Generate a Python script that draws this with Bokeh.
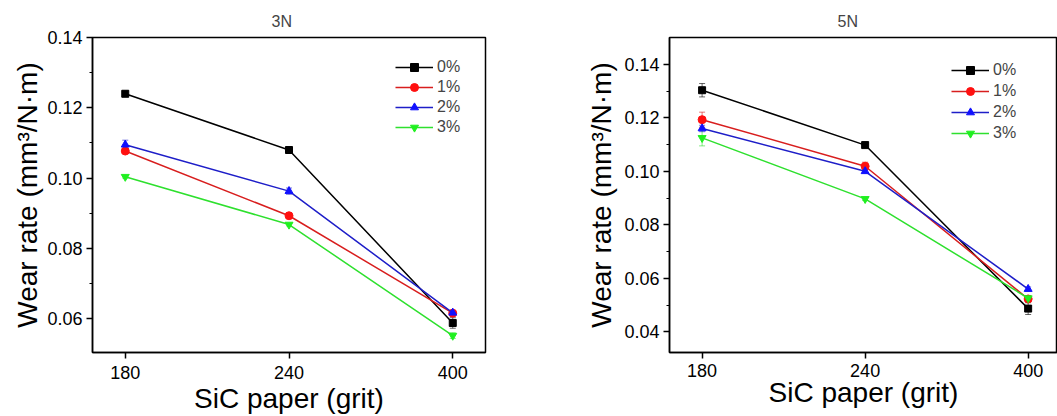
from bokeh.plotting import figure
from bokeh.models import (ColumnDataSource, Whisker, TeeHead, Legend, LegendItem,
                          FixedTicker, SingleIntervalTicker, NumeralTickFormatter, Range1d)
from bokeh.layouts import row
from bokeh.embed import file_html
from bokeh.resources import INLINE

# ---------------- data ----------------
grit = ["180", "240", "400"]
series = ["0%", "1%", "2%", "3%"]

# 3N
wear_3N_0 = [0.1240, 0.1080, 0.0588]
wear_3N_1 = [0.1077, 0.0893, 0.0616]
wear_3N_2 = [0.1095, 0.0963, 0.0617]
wear_3N_3 = [0.1004, 0.0868, 0.0552]
err_3N_0 = [0.0008, 0.0004, 0.0015]
err_3N_1 = [0.0005, 0.0004, 0.0004]
err_3N_2 = [0.0013, 0.0009, 0.0006]
err_3N_3 = [0.0004, 0.0004, 0.0008]

# 5N
wear_5N_0 = [0.1303, 0.1098, 0.0487]
wear_5N_1 = [0.1193, 0.1019, 0.0523]
wear_5N_2 = [0.1160, 0.1000, 0.0560]
wear_5N_3 = [0.1125, 0.0897, 0.0526]
err_5N_0 = [0.0025, 0.0005, 0.0022]
err_5N_1 = [0.0028, 0.0015, 0.0008]
err_5N_2 = [0.0012, 0.0008, 0.0008]
err_5N_3 = [0.0030, 0.0006, 0.0010]

# ---------------- styles ----------------
line_colors = ["#000000", "#d81e1e", "#1e1ec8", "#2ee02e"]
marker_colors = ["#000000", "#ff1010", "#1010ff", "#20f020"]
markers = ["square", "circle", "triangle", "inverted_triangle"]
marker_sizes = [7, 8, 8, 8]
FONT = "Liberation Sans"
HEIGHT = 416


def make_panel(title, ys, errs, y_start, y_end, x_end, width, mb_left, mb_right,
               mb_top, mb_bottom, legend_loc, legend_spacing, title_offset,
               ylabel_standoff, xlabel_standoff, xtick_standoff):
    p = figure(width=width, height=HEIGHT, output_backend="svg", toolbar_location=None,
               x_range=Range1d(-0.2, x_end), y_range=Range1d(y_start, y_end),
               min_border_left=mb_left, min_border_right=mb_right,
               min_border_top=mb_top, min_border_bottom=mb_bottom,
               background_fill_color="white", border_fill_color="white")
    p.title.text = title
    p.title.align = "left"
    p.title.offset = title_offset
    p.title.text_font = FONT
    p.title.text_font_size = "16px"
    p.title.text_font_style = "normal"
    p.title.standoff = 15
    p.grid.visible = False
    p.outline_line_color = "black"
    p.outline_line_width = 1.5
    p.outline_line_alpha = 1

    xs = list(range(len(grit)))
    items = []
    for i, (name, y, e) in enumerate(zip(series, ys, errs)):
        src = ColumnDataSource(dict(x=xs, y=y,
                                    upper=[a + b for a, b in zip(y, e)],
                                    lower=[a - b for a, b in zip(y, e)]))
        w = Whisker(source=src, base="x", upper="upper", lower="lower",
                    line_color=line_colors[i], line_width=1, line_alpha=0.6,
                    upper_head=TeeHead(size=6, line_color=line_colors[i], line_alpha=0.6, line_width=1),
                    lower_head=TeeHead(size=6, line_color=line_colors[i], line_alpha=0.6, line_width=1))
        p.add_layout(w)
        l = p.line("x", "y", source=src, line_color=line_colors[i], line_width=1.5)
        s = p.scatter("x", "y", source=src, marker=markers[i], size=marker_sizes[i],
                      fill_color=marker_colors[i], line_color=marker_colors[i])
        items.append(LegendItem(label=name, renderers=[l, s]))

    legend = Legend(items=items, location=legend_loc, margin=0, padding=0,
                    spacing=legend_spacing, glyph_width=38, glyph_height=20, label_height=20,
                    label_standoff=4, label_text_font=FONT, label_text_font_size="16px",
                    border_line_alpha=0, background_fill_alpha=0)
    p.add_layout(legend)

    # axes
    p.xaxis.ticker = FixedTicker(ticks=xs)
    p.xaxis.major_label_overrides = {i: g for i, g in enumerate(grit)}
    p.yaxis.ticker = SingleIntervalTicker(interval=0.02, num_minor_ticks=2)
    p.yaxis.formatter = NumeralTickFormatter(format="0.00")
    for ax in (p.xaxis[0], p.yaxis[0]):
        ax.axis_line_width = 1.5
        ax.axis_line_color = "black"
        ax.major_tick_line_width = 1.5
        ax.major_tick_line_color = "black"
        ax.minor_tick_line_color = "black"
        ax.minor_tick_line_width = 1.2
        ax.major_tick_in = 0
        ax.major_tick_out = 6
        ax.minor_tick_in = 0
        ax.minor_tick_out = 3
        ax.major_label_text_font = FONT
        ax.major_label_text_font_size = "18px"
        ax.major_label_text_color = "black"
        ax.axis_label_text_font = FONT
        ax.axis_label_text_font_style = "normal"
        ax.axis_label_text_color = "black"
    p.xaxis.minor_tick_out = 0
    p.xaxis.major_label_standoff = xtick_standoff
    p.yaxis.major_label_standoff = 4
    p.xaxis.axis_label = "SiC paper (grit)"
    p.yaxis.axis_label = "Wear rate (mm³/N·m)"
    p.xaxis.axis_label_text_font_size = "28px"
    p.yaxis.axis_label_text_font_size = "28px"
    p.xaxis.axis_label_standoff = xlabel_standoff
    p.yaxis.axis_label_standoff = ylabel_standoff
    return p


left = make_panel("3N",
                  [wear_3N_0, wear_3N_1, wear_3N_2, wear_3N_3],
                  [err_3N_0, err_3N_1, err_3N_2, err_3N_3],
                  0.0504, 0.14, 2.2, 528, 92, 43, 35, 63, (303, 215), 0,
                  179, 1, 1, 7)
right = make_panel("5N",
                   [wear_5N_0, wear_5N_1, wear_5N_2, wear_5N_3],
                   [err_5N_0, err_5N_1, err_5N_2, err_5N_3],
                   0.0323, 0.15, 2.18, 529, 141, 0, 37, 63, (282, 209), 1,
                   168, 4, -3, 5)

layout = row(left, right)
open("out.html", "w").write(file_html(layout, INLINE))
